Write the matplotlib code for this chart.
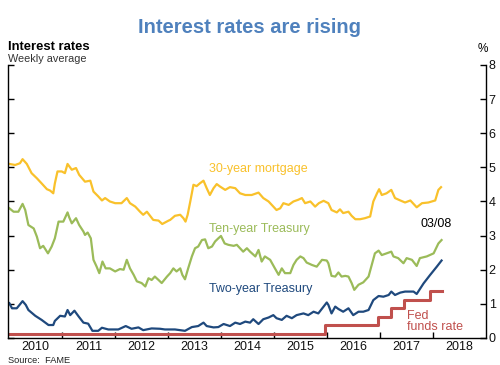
import matplotlib
matplotlib.use("Agg")
import matplotlib.pyplot as plt
import numpy as np

plt.rcParams['font.family'] = ['Liberation Sans', 'DejaVu Sans']

# ---- data (decimal years, percent) ----
mort_t = [2010.00, 2010.11, 2010.20, 2010.25, 2010.33, 2010.42, 2010.52, 2010.61, 2010.71, 2010.77,
          2010.83, 2010.86, 2010.91, 2010.99, 2011.05, 2011.10, 2011.18, 2011.26, 2011.32, 2011.43,
          2011.53, 2011.59, 2011.68, 2011.75, 2011.81, 2011.90, 2012.00, 2012.12, 2012.22, 2012.28,
          2012.38, 2012.47, 2012.53, 2012.60, 2012.72, 2012.82, 2012.89, 2013.01, 2013.04, 2013.13,
          2013.23, 2013.29, 2013.33, 2013.37, 2013.42, 2013.48, 2013.54, 2013.60, 2013.67, 2013.73,
          2013.79, 2013.86, 2013.92, 2013.98, 2014.08, 2014.17, 2014.27, 2014.36, 2014.46, 2014.58,
          2014.71, 2014.80, 2014.90, 2014.96, 2015.05, 2015.12, 2015.18, 2015.28, 2015.37, 2015.46,
          2015.53, 2015.59, 2015.69, 2015.78, 2015.85, 2015.94, 2016.03, 2016.09, 2016.19, 2016.25,
          2016.31, 2016.41, 2016.47, 2016.54, 2016.63, 2016.72, 2016.82, 2016.88, 2016.95, 2016.99,
          2017.04, 2017.13, 2017.22, 2017.29, 2017.39, 2017.48, 2017.58, 2017.70, 2017.80, 2017.92,
          2018.05, 2018.11, 2018.16]
mort_v = [5.10, 5.07, 5.12, 5.24, 5.10, 4.83, 4.68, 4.53, 4.36, 4.32,
          4.24, 4.53, 4.88, 4.88, 4.83, 5.10, 4.93, 4.98, 4.78, 4.58,
          4.61, 4.29, 4.15, 4.03, 4.10, 4.00, 3.95, 3.95, 4.10, 3.95,
          3.85, 3.70, 3.61, 3.70, 3.46, 3.44, 3.34, 3.44, 3.46, 3.58,
          3.61, 3.51, 3.41, 3.61, 4.00, 4.49, 4.45, 4.53, 4.61, 4.39,
          4.19, 4.39, 4.51, 4.44, 4.34, 4.42, 4.39, 4.24, 4.19, 4.19,
          4.26, 4.10, 4.00, 3.90, 3.75, 3.80, 3.95, 3.90, 4.00, 4.05,
          4.10, 3.95, 4.00, 3.85, 3.95, 4.02, 3.95, 3.75, 3.68, 3.77,
          3.66, 3.70, 3.58, 3.48, 3.48, 3.51, 3.56, 4.00, 4.24, 4.36,
          4.19, 4.24, 4.34, 4.10, 4.03, 3.97, 4.03, 3.83, 3.95, 3.97,
          4.03, 4.34, 4.42]

ten_t = [2010.00, 2010.08, 2010.17, 2010.25, 2010.30, 2010.36, 2010.46, 2010.52, 2010.58, 2010.64,
         2010.73, 2010.80, 2010.86, 2010.93, 2011.02, 2011.10, 2011.13, 2011.18, 2011.26, 2011.32,
         2011.40, 2011.43, 2011.48, 2011.54, 2011.59, 2011.65, 2011.70, 2011.76, 2011.82, 2011.90,
         2012.00, 2012.09, 2012.16, 2012.22, 2012.28, 2012.35, 2012.41, 2012.50, 2012.57, 2012.63,
         2012.69, 2012.75, 2012.82, 2012.88, 2012.98, 2013.04, 2013.10, 2013.16, 2013.23, 2013.27,
         2013.32, 2013.38, 2013.45, 2013.51, 2013.57, 2013.64, 2013.70, 2013.76, 2013.83, 2013.89,
         2013.95, 2014.00, 2014.07, 2014.14, 2014.24, 2014.30, 2014.36, 2014.42, 2014.49, 2014.55,
         2014.65, 2014.71, 2014.77, 2014.83, 2014.93, 2015.02, 2015.09, 2015.15, 2015.21, 2015.31,
         2015.37, 2015.43, 2015.50, 2015.56, 2015.62, 2015.72, 2015.81, 2015.91, 2016.00, 2016.03,
         2016.09, 2016.16, 2016.22, 2016.28, 2016.35, 2016.41, 2016.47, 2016.52, 2016.60, 2016.69,
         2016.79, 2016.85, 2016.91, 2016.98, 2017.04, 2017.13, 2017.22, 2017.26, 2017.35, 2017.45,
         2017.51, 2017.61, 2017.70, 2017.76, 2017.89, 2018.02, 2018.11, 2018.17]
ten_v = [3.80, 3.70, 3.70, 3.93, 3.75, 3.31, 3.21, 2.97, 2.63, 2.70,
         2.48, 2.68, 2.92, 3.41, 3.41, 3.68, 3.54, 3.36, 3.51, 3.31,
         3.12, 3.02, 3.09, 2.92, 2.29, 2.09, 1.90, 2.24, 2.04, 2.04,
         1.95, 2.02, 2.00, 2.29, 2.04, 1.85, 1.66, 1.61, 1.51, 1.75,
         1.70, 1.80, 1.70, 1.61, 1.80, 1.90, 2.04, 1.95, 2.04, 1.85,
         1.72, 2.04, 2.39, 2.63, 2.68, 2.87, 2.89, 2.63, 2.68, 2.83,
         2.92, 2.99, 2.77, 2.73, 2.70, 2.73, 2.63, 2.53, 2.63, 2.53,
         2.39, 2.58, 2.24, 2.39, 2.29, 2.04, 1.85, 2.04, 1.90, 1.90,
         2.14, 2.29, 2.39, 2.34, 2.21, 2.14, 2.09, 2.29, 2.27, 2.19,
         1.82, 1.80, 1.92, 1.80, 1.82, 1.80, 1.61, 1.41, 1.56, 1.63,
         1.80, 2.14, 2.48, 2.56, 2.43, 2.48, 2.53, 2.39, 2.34, 2.19,
         2.34, 2.29, 2.11, 2.34, 2.39, 2.48, 2.77, 2.87]

two_t = [2010.00, 2010.05, 2010.14, 2010.25, 2010.31, 2010.36, 2010.49, 2010.61, 2010.74, 2010.83,
         2010.86, 2010.96, 2011.05, 2011.10, 2011.15, 2011.23, 2011.31, 2011.40, 2011.49, 2011.57,
         2011.68, 2011.75, 2011.87, 2012.06, 2012.20, 2012.31, 2012.44, 2012.53, 2012.69, 2012.85,
         2012.94, 2013.13, 2013.32, 2013.45, 2013.57, 2013.67, 2013.73, 2013.86, 2013.95, 2014.05,
         2014.17, 2014.27, 2014.36, 2014.46, 2014.55, 2014.61, 2014.71, 2014.80, 2014.90, 2014.99,
         2015.05, 2015.15, 2015.24, 2015.34, 2015.43, 2015.56, 2015.65, 2015.75, 2015.84, 2015.94,
         2016.00, 2016.03, 2016.09, 2016.16, 2016.22, 2016.31, 2016.41, 2016.50, 2016.60, 2016.69,
         2016.79, 2016.88, 2016.98, 2017.07, 2017.17, 2017.22, 2017.29, 2017.39, 2017.48, 2017.64,
         2017.70, 2017.83, 2017.95, 2018.08, 2018.17]
two_v = [1.02, 0.87, 0.87, 1.08, 0.97, 0.82, 0.65, 0.53, 0.38, 0.38,
         0.50, 0.65, 0.63, 0.82, 0.67, 0.80, 0.63, 0.45, 0.42, 0.21,
         0.21, 0.30, 0.25, 0.25, 0.35, 0.27, 0.31, 0.23, 0.28, 0.27,
         0.25, 0.25, 0.21, 0.32, 0.35, 0.45, 0.35, 0.31, 0.32, 0.41,
         0.35, 0.45, 0.41, 0.48, 0.45, 0.55, 0.41, 0.55, 0.60, 0.67,
         0.58, 0.53, 0.65, 0.58, 0.67, 0.72, 0.67, 0.77, 0.72, 0.92,
         1.04, 0.97, 0.72, 0.92, 0.85, 0.77, 0.87, 0.67, 0.77, 0.77,
         0.82, 1.11, 1.23, 1.21, 1.26, 1.36, 1.26, 1.33, 1.36, 1.36,
         1.29, 1.60, 1.84, 2.09, 2.27]

fed_t = [2010.00, 2015.96, 2016.96, 2017.21, 2017.46, 2017.96, 2018.17]
fed_v = [0.125, 0.375, 0.625, 0.875, 1.125, 1.375, 1.375]

year_ticks = [2011, 2012, 2013, 2014, 2015, 2016, 2017, 2018]
year_labels = ['2010', '2011', '2012', '2013', '2014', '2015', '2016', '2017', '2018']
y_ticks = [0, 1, 2, 3, 4, 5, 6, 7, 8]

C_MORT = '#F9C12B'
C_TEN = '#9BBB59'
C_TWO = '#1F497D'
C_FED = '#C0504D'

fig = plt.figure(figsize=(5.0, 3.65), dpi=100)
ax = fig.add_axes([0.0166, 0.074, 0.9554, 0.748])

ax.plot(mort_t, mort_v, color=C_MORT, lw=1.6)
ax.plot(ten_t, ten_v, color=C_TEN, lw=1.6)
ax.plot(two_t, two_v, color=C_TWO, lw=1.6)
ax.plot(fed_t, fed_v, color=C_FED, lw=2.2, drawstyle='steps-post')

ax.set_xlim(2009.98, 2019.01)
ax.set_ylim(0, 8)

ax.spines['top'].set_visible(False)
for s in ['left', 'right', 'bottom']:
    ax.spines[s].set_linewidth(1.0)
    ax.spines[s].set_color('black')

ax.set_xticks(year_ticks)
ax.set_xticklabels([])
ax.set_xticks([int(l) + 0.5 for l in year_labels], minor=True)
ax.set_xticklabels(year_labels, minor=True)
ax.tick_params(axis='x', which='major', direction='in', length=4, width=1)
ax.tick_params(axis='x', which='minor', length=0, labelsize=9, pad=2, labelcolor='#111111')

ax.set_yticks(y_ticks)
ax.tick_params(axis='y', which='major', direction='in', length=4, width=1,
               left=True, right=True, labelleft=False, labelright=True,
               labelsize=9, pad=2, labelcolor='#111111')

fig.text(0.5, 0.925, 'Interest rates are rising', ha='center', va='center',
         fontsize=14.5, fontweight='bold', color='#4F81BD')
fig.text(0.016, 0.872, 'Interest rates', ha='left', va='center', fontsize=9.4,
         fontweight='bold', color='black')
fig.text(0.016, 0.838, 'Weekly average', ha='left', va='center', fontsize=7.8,
         color='#333333')
fig.text(0.966, 0.866, '%', ha='center', va='center', fontsize=8.5, color='black')
fig.text(0.016, 0.013, 'Source:  FAME', ha='left', va='center', fontsize=6.7,
         color='#222222')

ax.text(2013.77, 4.95, '30-year mortgage', color=C_MORT, fontsize=9, ha='left', va='center')
ax.text(2013.77, 3.20, 'Ten-year Treasury', color=C_TEN, fontsize=9, ha='left', va='center')
ax.text(2013.77, 1.44, 'Two-year Treasury', color=C_TWO, fontsize=9, ha='left', va='center')
ax.text(2017.77, 3.34, '03/08', color='black', fontsize=9, ha='left', va='center')
ax.text(2017.52, 0.48, 'Fed\nfunds rate', color=C_FED, fontsize=9, ha='left', va='center',
        linespacing=0.95)

fig.savefig('out.png', dpi=100)
